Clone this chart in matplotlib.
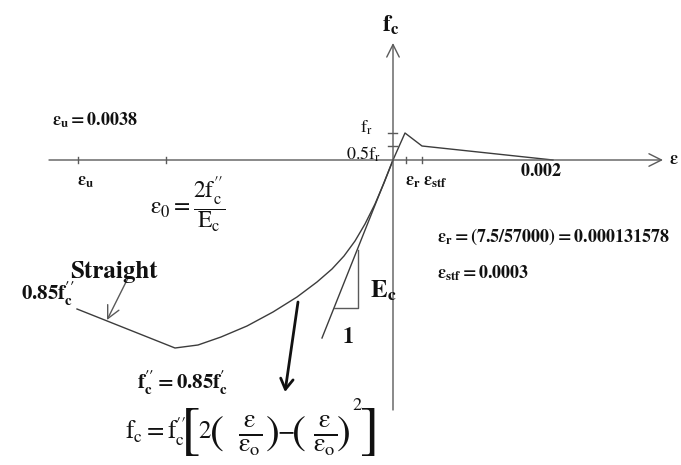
import matplotlib.pyplot as plt

plt.rcParams['mathtext.fontset'] = 'stix'
plt.rcParams['font.family'] = ['STIXGeneral', 'Liberation Serif', 'DejaVu Serif']

# Schematic concrete stress-strain law, drawn in diagram units
# (origin at zero strain / zero stress, compression negative).
comp_eps = [0, -9, -18, -28, -38, -49, -61, -76, -96, -120, -146, -172, -195, -218, -316]
comp_f = [0, -23, -44, -64, -81, -96, -109, -122, -137, -152, -166, -177, -185, -188, -149]

tens_eps = [0, 12, 29, 160]
tens_f = [0, 27, 14, 0]

# initial tangent (Ec) and its slope triangle
tan_eps = [0, -71]
tan_f = [0, -178]
tri_eps = [-59, -35, -35]
tri_f = [-148, -148, -90]

# tick positions along the axes
eps_ticks = [-315, -227, 13, 29]
f_ticks = [27, 14]

grey = '#5a5a5a'
ink = '#111111'

fig = plt.figure(figsize=(6.81, 4.65), dpi=100)
ax = fig.add_axes([0, 0, 1, 1])
ax.set_xlim(-393, 288)
ax.set_ylim(-305, 160)
ax.axis('off')

# axes with open arrow heads
axis_arrow = dict(arrowstyle='->, head_length=0.6, head_width=0.3', color=grey,
                  lw=1.0, shrinkA=0, shrinkB=0, mutation_scale=15)
ax.annotate('', xy=(270, 0), xytext=(-344, 0), arrowprops=axis_arrow)
ax.annotate('', xy=(0, 117), xytext=(0, -250), arrowprops=axis_arrow)

for t in eps_ticks:
    ax.plot([t, t], [-3, 3], color=grey, lw=1)
for t in f_ticks:
    ax.plot([-5, 4], [t, t], color=grey, lw=1)

ax.plot(comp_eps, comp_f, color='#3c3c3c', lw=1.0)
ax.plot(tens_eps, tens_f, color='#3c3c3c', lw=1.0)
ax.plot(tan_eps, tan_f, color='#3c3c3c', lw=1.0)
ax.plot(tri_eps, tri_f, color=grey, lw=1.0)

# arrow pointing at the straight descending branch
ax.annotate('', xy=(-286, -160), xytext=(-265, -118),
            arrowprops=dict(arrowstyle='->, head_length=0.6, head_width=0.3',
                            color=grey, lw=1.0, shrinkA=0, shrinkB=0,
                            mutation_scale=15))
# arrow from the parabola down to its equation
ax.annotate('', xy=(-108, -232), xytext=(-95, -142),
            arrowprops=dict(arrowstyle='->, head_length=0.5, head_width=0.3',
                            color=ink, lw=2.0, shrinkA=0, shrinkB=0,
                            mutation_scale=15))

# axis titles
ax.text(-2, 135, r'$\mathbf{f_c}$', fontsize=17, ha='center', va='center', color=ink)
ax.text(276, 0, r'$\mathbf{ε}$', fontsize=13, ha='left', va='center', color=ink)

# labels along the strain axis
ax.text(-341, 40, r'$\mathbf{ε_u = 0.0038}$', fontsize=13, ha='left', va='center', color=ink)
ax.text(-316, -22, r'$\mathbf{ε_u}$', fontsize=13, ha='left', va='center', color=ink)
ax.text(-243, -45, r'$\mathrm{ε_0 =}\dfrac{\mathrm{2f_c^{\prime\prime}}}{\mathrm{E_c}}$',
        fontsize=17, ha='left', va='center', color=ink)
ax.text(12, -22, r'$\mathbf{ε_r}$', fontsize=13, ha='left', va='center', color=ink)
ax.text(30, -22, r'$\mathbf{ε_{stf}}$', fontsize=13, ha='left', va='center', color=ink)
ax.text(148, -11, r'$\mathbf{0.002}$', fontsize=13, ha='center', va='center', color=ink)

# labels along the stress axis
ax.text(-20, 32, r'$\mathrm{f_r}$', fontsize=13, ha='right', va='center', color=ink)
ax.text(-12, 6, r'$\mathrm{0.5f_r}$', fontsize=13, ha='right', va='center', color=ink)

# parameter notes
ax.text(44, -77, r'$\mathbf{ε_r = (7.5/57000) = 0.000131578}$', fontsize=13,
        ha='left', va='center', color=ink)
ax.text(44, -113, r'$\mathbf{ε_{stf} = 0.0003}$', fontsize=13,
        ha='left', va='center', color=ink)

ax.text(-279, -112, 'Straight', fontsize=18, fontweight='bold', ha='center',
        va='center', color=ink)
ax.text(-318, -134, r'$\mathbf{0.85f_c^{\prime\prime}}$', fontsize=15,
        ha='right', va='center', color=ink)
ax.text(-23, -131, r'$\mathbf{E_c}$', fontsize=18, ha='left', va='center', color=ink)
ax.text(-45, -178, r'$\mathbf{1}$', fontsize=16, ha='center', va='center', color=ink)

ax.text(-256, -223, r'$\mathbf{f_c^{\prime\prime} = 0.85f_c^{\prime}}$', fontsize=15,
        ha='left', va='center', color=ink)

# parabola equation, set piece by piece so the brackets can be tall
eq_y = -272
frac = r'$\frac{\mathrm{ε}}{\mathrm{ε_o}}$'
ax.text(-268, eq_y, r'$\mathrm{f_c = f_c^{\prime\prime}}$', fontsize=18,
        ha='left', va='center', color=ink)
ax.text(-202, eq_y - 2, '[', fontsize=42, ha='center', va='center', color=ink)
ax.text(-188, eq_y, '2', fontsize=18, ha='center', va='center', color=ink)
ax.text(-176, eq_y - 3, '(', fontsize=30, ha='center', va='center', color=ink)
ax.text(-143, eq_y - 4, frac, fontsize=27, ha='center', va='center', color=ink)
ax.text(-120, eq_y - 3, ')', fontsize=30, ha='center', va='center', color=ink)
ax.text(-107, eq_y, '\u2212', fontsize=18, ha='center', va='center', color=ink)
ax.text(-94, eq_y - 3, '(', fontsize=30, ha='center', va='center', color=ink)
ax.text(-68, eq_y - 4, frac, fontsize=27, ha='center', va='center', color=ink)
ax.text(-49, eq_y - 3, ')', fontsize=30, ha='center', va='center', color=ink)
ax.text(-36, eq_y + 26, '2', fontsize=13, ha='center', va='center', color=ink)
ax.text(-23, eq_y - 2, ']', fontsize=42, ha='center', va='center', color=ink)

fig.savefig('out.png', dpi=100)
